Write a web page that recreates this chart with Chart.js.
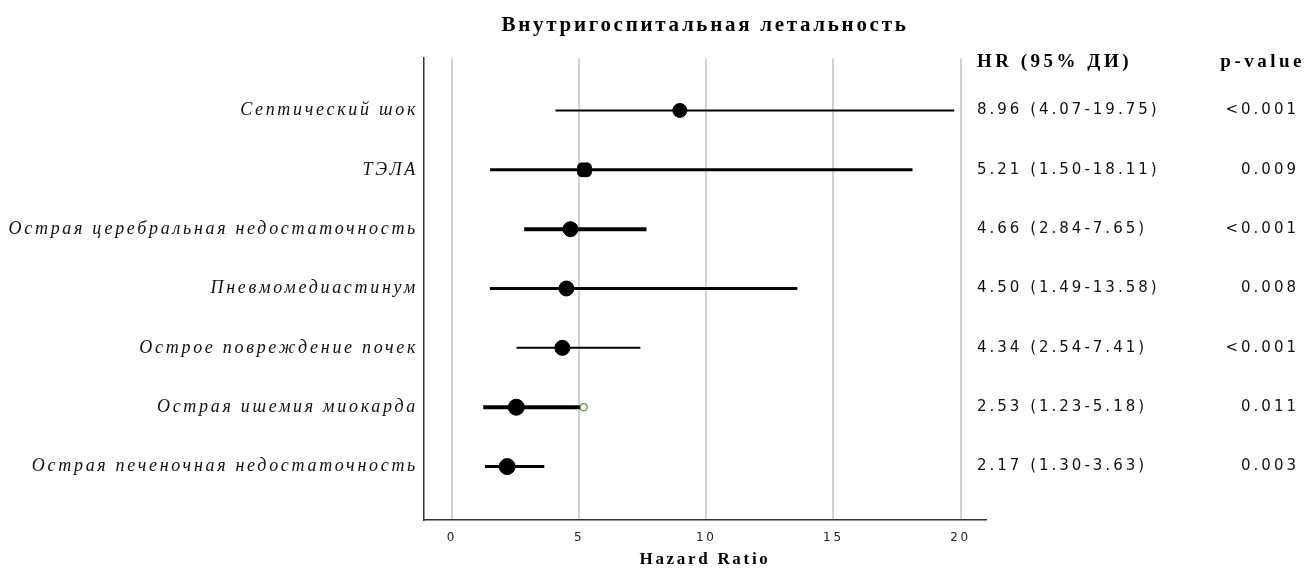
<!DOCTYPE html>
<html>
<head>
<meta charset="utf-8">
<title>Forest plot</title>
<script src="https://cdn.jsdelivr.net/npm/chart.js@4.4.1/dist/chart.umd.min.js"></script>
<style>
    html, body { margin: 0; padding: 0; background: #fff; }
    #wrap { width: 1305px; height: 570px; }
</style>
</head>
<body>
<div id="wrap"><canvas id="forest" width="1305" height="570"></canvas></div>
<script>
// rows, top to bottom
const labels = [
    'Септический шок',
    'ТЭЛА',
    'Острая церебральная недостаточность',
    'Пневмомедиастинум',
    'Острое повреждение почек',
    'Острая ишемия миокарда',
    'Острая печеночная недостаточность'
];
const hr = [8.96, 5.21, 4.66, 4.50, 4.34, 2.53, 2.17];
const ciLow = [4.07, 1.50, 2.84, 1.49, 2.54, 1.23, 1.30];
const ciHigh = [19.75, 18.11, 7.65, 13.58, 7.41, 5.18, 3.63];
const pValues = ['<0.001', '0.009', '<0.001', '0.008', '<0.001', '0.011', '0.003'];
const xTicks = [0, 5, 10, 15, 20];
const openMarkerRow = 5; // small green circle at the upper CI end

// styling per row (the original plot varies them)
const lineWidths = [2, 3, 4, 3, 2, 4, 3];
const markerSizes = [7, 8, 7.5, 7.5, 7.5, 8, 8];
const markerStyles = ['circle', 'rectRounded', 'circle', 'circle', 'circle', 'circle', 'circle'];

const rows = labels.map((_, i) => i + 1);
const SPACING = '2.7px';

function hrLabel(i) {
    return hr[i].toFixed(2) + ' (' + ciLow[i].toFixed(2) + '-' + ciHigh[i].toFixed(2) + ')';
}

// the source image has very loose letter spacing everywhere
const spacingPlugin = {
    id: 'spacing',
    beforeLayout(chart) { chart.ctx.letterSpacing = SPACING; },
    beforeDraw(chart) { chart.ctx.letterSpacing = SPACING; }
};

const columnsPlugin = {
    id: 'columns',
    afterDatasetsDraw(chart) {
        const { ctx, chartArea, scales: { y } } = chart;
        const hrX = chartArea.right - 9;
        const pX = chart.width - 6;
        ctx.save();
        ctx.letterSpacing = '3px';
        ctx.fillStyle = '#111';
        ctx.textBaseline = 'middle';
        ctx.font = '15px "DejaVu Sans"';
        rows.forEach((r, i) => {
            const py = y.getPixelForValue(r);
            ctx.textAlign = 'left';
            ctx.fillText(hrLabel(i), hrX, py);
            ctx.textAlign = 'right';
            ctx.fillText(pValues[i], pX, py);
        });
        ctx.letterSpacing = '3.5px';
        ctx.font = 'bold 19px "Liberation Serif"';
        ctx.fillStyle = '#000';
        ctx.textAlign = 'left';
        ctx.fillText('HR (95% ДИ)', hrX, chartArea.top + 4);
        ctx.textAlign = 'right';
        ctx.fillText('p-value', pX + 6, chartArea.top + 4);
        ctx.restore();
    }
};

const ciSets = labels.map((name, i) => ({
    type: 'line',
    label: name,
    data: [{ x: ciLow[i], y: rows[i] }, { x: ciHigh[i], y: rows[i] }],
    borderColor: '#000',
    borderWidth: lineWidths[i],
    pointRadius: 0,
    order: 3
}));

const pointSet = {
    type: 'scatter',
    label: 'HR',
    data: hr.map((v, i) => ({ x: v, y: rows[i] })),
    pointStyle: markerStyles,
    pointRadius: markerSizes,
    backgroundColor: '#000',
    borderColor: '#000',
    borderWidth: 1,
    order: 2
};

const openSet = {
    type: 'scatter',
    label: 'open',
    data: [{ x: ciHigh[openMarkerRow], y: rows[openMarkerRow] }],
    pointRadius: 3.5,
    backgroundColor: '#fff',
    borderColor: '#4e9a3e',
    borderWidth: 1.2,
    order: 1
};

new Chart(document.getElementById('forest'), {
    type: 'scatter',
    data: { datasets: ciSets.concat([pointSet, openSet]) },
    plugins: [spacingPlugin, columnsPlugin],
    options: {
        responsive: false,
        animation: false,
        events: [],
        layout: { padding: { left: 0, right: 319, top: 0, bottom: 0 } },
        plugins: {
            legend: { display: false },
            tooltip: { enabled: false },
            title: {
                display: true,
                text: 'Внутригоспитальная летальность',
                fullSize: false,
                color: '#000',
                font: { family: '"Liberation Serif"', size: 21, weight: 'bold' },
                padding: { top: 13, bottom: 20 }
            }
        },
        scales: {
            x: {
                type: 'linear',
                min: -1.1,
                max: 21,
                afterBuildTicks: s => { s.ticks = xTicks.map(v => ({ value: v })); },
                afterFit: s => { s.height = 50; },
                grid: { color: '#d2d2d2', lineWidth: 2, drawTicks: false },
                border: { display: true, color: '#333', width: 1.5 },
                ticks: { color: '#222', padding: 11, font: { family: '"DejaVu Sans"', size: 12 } },
                title: {
                    display: true,
                    text: 'Hazard Ratio',
                    color: '#000',
                    font: { family: '"Liberation Serif"', size: 17, weight: 'bold' },
                    padding: { top: 0, bottom: 0 }
                }
            },
            y: {
                type: 'linear',
                reverse: true,
                min: 0.12,
                max: 7.9,
                afterBuildTicks: s => { s.ticks = rows.map(v => ({ value: v })); },
                afterFit: s => { s.width = 424; },
                grid: { display: false },
                border: { display: true, color: '#333', width: 1.5 },
                ticks: {
                    color: '#111',
                    padding: -2,
                    callback: v => labels[Math.round(v) - 1],
                    font: { family: '"Liberation Serif"', style: 'italic', size: 18 }
                }
            }
        }
    }
});
</script>
</body>
</html>
